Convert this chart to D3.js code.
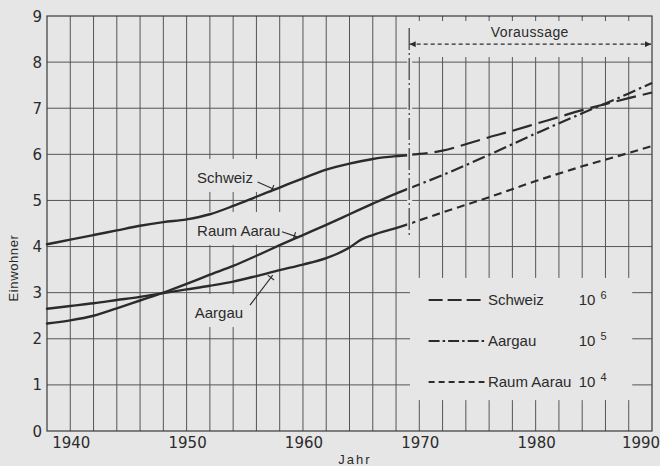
<!DOCTYPE html>
<html>
<head>
<meta charset="utf-8">
<script src="https://cdn.jsdelivr.net/npm/d3@7"></script>
<style>
html,body{margin:0;padding:0;background:#e6e6e6;}
svg{display:block;}
</style>
</head>
<body>
<svg id="chart" width="660" height="466"></svg>
<script>
// ---------- data ----------
const yearTicks = [1940, 1950, 1960, 1970, 1980, 1990];
const valueTicks = [0, 1, 2, 3, 4, 5, 6, 7, 8, 9];

const schweizYears  = [1938,1940,1942,1944,1946,1948,1950,1952,1954,1956,1958,1960,1962,1964,1966,1968,1969];
const schweizValues = [4.05,4.15,4.25,4.35,4.45,4.53,4.59,4.70,4.88,5.08,5.28,5.48,5.67,5.80,5.90,5.96,5.98];
const schweizForecastYears  = [1969,1970,1972,1974,1976,1978,1980,1982,1984,1986,1988,1990];
const schweizForecastValues = [5.99,6.01,6.08,6.22,6.37,6.51,6.66,6.81,6.96,7.09,7.22,7.34];

const raumYears  = [1938,1940,1942,1944,1946,1948,1950,1952,1954,1956,1958,1960,1962,1964,1966,1968,1969];
const raumValues = [2.33,2.40,2.50,2.66,2.83,3.00,3.19,3.39,3.58,3.80,4.03,4.25,4.47,4.70,4.93,5.15,5.25];
const raumForecastYears  = [1969,1972,1976,1980,1984,1988,1990];
const raumForecastValues = [5.25,5.55,5.99,6.45,6.89,7.32,7.55];

const aargauYears  = [1938,1940,1942,1944,1946,1948,1950,1952,1954,1956,1958,1960,1962,1963,1964,1965,1966,1968,1969];
const aargauValues = [2.65,2.71,2.77,2.84,2.91,2.99,3.07,3.15,3.24,3.36,3.49,3.61,3.75,3.85,3.98,4.15,4.25,4.40,4.48];
const aargauForecastYears  = [1969,1972,1976,1980,1984,1988,1990];
const aargauForecastValues = [4.48,4.74,5.07,5.42,5.74,6.03,6.18];

const legendNames = ["Schweiz", "Aargau", "Raum Aarau"];
const legendUnits = ["6", "5", "4"];
const forecastStart = 1969;

// ---------- layout ----------
const svg = d3.select("#chart");
const BG = "#e6e6e6", INK = "#2b2b2b", GRID = "#555";
const x = d3.scaleLinear().domain([1938, 1990]).range([47, 652]);
const y = d3.scaleLinear().domain([0, 9]).range([431, 16]);

const toPts = (ys, vs) => ys.map((yr, i) => [yr, vs[i]]);
const line = d3.line().x(d => x(d[0])).y(d => y(d[1])).curve(d3.curveMonotoneX);

// background
svg.append("rect").attr("width", 660).attr("height", 466).attr("fill", BG);

// grid
const g = svg.append("g");
const gridYears = d3.range(1940, 1990, 2);
g.selectAll(".vg").data(gridYears).join("line")
  .attr("x1", d => x(d)).attr("x2", d => x(d))
  .attr("y1", y(9)).attr("y2", y(0))
  .attr("stroke", GRID).attr("stroke-width", 1);
g.selectAll(".hg").data(d3.range(1, 9)).join("line")
  .attr("x1", x(1938)).attr("x2", x(1990))
  .attr("y1", d => y(d)).attr("y2", d => y(d))
  .attr("stroke", GRID).attr("stroke-width", 1);

// masks behind annotations (hide grid)
const masks = svg.append("g").attr("fill", BG);
masks.append("rect")
  .attr("x", x(forecastStart) + 3).attr("y", y(9) + 1)
  .attr("width", x(1990) - x(forecastStart) - 4).attr("height", y(8.11) - y(9) - 1);
masks.append("rect")
  .attr("x", x(1969.2)).attr("y", y(3.32))
  .attr("width", x(1988.3) - x(1969.2)).attr("height", y(0.67) - y(3.32));

// small ticks at top in header box
svg.append("g").selectAll("line").data(d3.range(1970, 1990, 2)).join("line")
  .attr("x1", d => x(d)).attr("x2", d => x(d))
  .attr("y1", y(9)).attr("y2", y(9) + 5)
  .attr("stroke", GRID).attr("stroke-width", 1);

// frame
svg.append("rect").attr("x", x(1938)).attr("y", y(9))
  .attr("width", x(1990) - x(1938)).attr("height", y(0) - y(9))
  .attr("fill", "none").attr("stroke", "#3a3a3a").attr("stroke-width", 1.2);

// curve labels with masks
const annotations = [
  {text: "Schweiz",    tx: 1950.9, tv: 5.38, from: [1956.1, 5.40], to: [1957.6, 5.23]},
  {text: "Raum Aarau", tx: 1950.9, tv: 4.23, from: [1958.2, 4.32], to: [1959.5, 4.21]},
  {text: "Aargau",     tx: 1950.7, tv: 2.45, from: [1955.45, 2.73], to: [1957.4, 3.38]}
];
const labelG = svg.append("g");
annotations.forEach(a => {
  const t = labelG.append("text")
    .attr("x", x(a.tx)).attr("y", y(a.tv))
    .attr("font-family", "Liberation Sans, Arial, sans-serif")
    .attr("font-size", 15).attr("fill", INK).text(a.text);
  const bb = t.node().getBBox();
  labelG.insert("rect", "text")
    .attr("x", bb.x - 5).attr("y", bb.y - 10)
    .attr("width", bb.width + 12).attr("height", bb.height + 16)
    .attr("fill", BG);
});

// historical curves (solid)
const curves = svg.append("g").attr("fill", "none").attr("stroke", INK)
  .attr("stroke-width", 2.4).attr("stroke-linecap", "round");
curves.append("path").attr("d", line(toPts(schweizYears, schweizValues)));
curves.append("path").attr("d", line(toPts(raumYears, raumValues)));
curves.append("path").attr("d", line(toPts(aargauYears, aargauValues)));

// forecast curves
const fc = svg.append("g").attr("fill", "none").attr("stroke", INK).attr("stroke-width", 2.2);
fc.append("path").attr("d", line(toPts(schweizForecastYears, schweizForecastValues)))
  .attr("stroke-dasharray", "20,7");
fc.append("path").attr("d", line(toPts(raumForecastYears, raumForecastValues)))
  .attr("stroke-dasharray", "13,4,2.5,4");
fc.append("path").attr("d", line(toPts(aargauForecastYears, aargauForecastValues)))
  .attr("stroke-dasharray", "8,5");

// stripe & vertical forecast divider
svg.append("rect").attr("x", x(forecastStart) - 0.5).attr("y", y(8.74))
  .attr("width", 5).attr("height", y(4.25) - y(8.74)).attr("fill", BG);
svg.append("line")
  .attr("x1", x(forecastStart) + 1.5).attr("x2", x(forecastStart) + 1.5)
  .attr("y1", y(8.74)).attr("y2", y(4.25))
  .attr("stroke", INK).attr("stroke-width", 1.1)
  .attr("stroke-dasharray", "22,3,2,3");

// leaders
annotations.forEach(a => {
  const x1 = x(a.from[0]), y1 = y(a.from[1]), x2 = x(a.to[0]), y2 = y(a.to[1]);
  labelG.append("line").attr("x1", x1).attr("y1", y1).attr("x2", x2).attr("y2", y2)
    .attr("stroke", INK).attr("stroke-width", 1.1);
  const dx = x2 - x1, dy = y2 - y1, L = Math.hypot(dx, dy);
  const px = -dy / L, py = dx / L, ux = dx / L, uy = dy / L;
  const cx = x2 - ux * 3, cy = y2 - uy * 3;
  labelG.append("line")
    .attr("x1", cx - px * 4).attr("y1", cy - py * 4)
    .attr("x2", cx + px * 4).attr("y2", cy + py * 4)
    .attr("stroke", INK).attr("stroke-width", 1.1);
});

// "Voraussage" header arrow
const defs = svg.append("defs");
defs.append("marker").attr("id", "ah").attr("viewBox", "0 0 10 10")
  .attr("refX", 10).attr("refY", 5).attr("markerWidth", 9).attr("markerHeight", 6)
  .attr("markerUnits", "userSpaceOnUse").attr("orient", "auto-start-reverse")
  .append("path").attr("d", "M0,0 L10,5 L0,10 Z").attr("fill", INK);
svg.append("line")
  .attr("x1", x(forecastStart) + 2).attr("x2", x(1990) - 1)
  .attr("y1", y(8.39)).attr("y2", y(8.39))
  .attr("stroke", INK).attr("stroke-width", 1.1).attr("stroke-dasharray", "4,3")
  .attr("marker-start", "url(#ah)").attr("marker-end", "url(#ah)");
svg.append("text")
  .attr("x", x((forecastStart + 1990) / 2)).attr("y", y(8.39) - 7)
  .attr("text-anchor", "middle")
  .attr("font-family", "Liberation Sans, Arial, sans-serif")
  .attr("font-size", 14).attr("letter-spacing", 0.4).attr("fill", INK)
  .text("Voraussage");

// legend
const dashes = ["14,5", "11,3,2.5,3", "6,4"];
const legG = svg.append("g");
legendNames.forEach((name, i) => {
  const cy = y(2.84 - i * 0.89);
  legG.append("line").attr("x1", x(1970.8)).attr("x2", x(1975.6))
    .attr("y1", cy).attr("y2", cy)
    .attr("stroke", INK).attr("stroke-width", 2).attr("stroke-dasharray", dashes[i]);
  legG.append("text").attr("x", x(1975.9)).attr("y", cy + 5)
    .attr("font-family", "Liberation Sans, Arial, sans-serif")
    .attr("font-size", 15).attr("fill", INK).text(name);
  const t = legG.append("text").attr("x", x(1983.7)).attr("y", cy + 5)
    .attr("font-family", "Liberation Sans, Arial, sans-serif")
    .attr("font-size", 15).attr("fill", INK);
  t.append("tspan").text("10");
  t.append("tspan").attr("dx", 5).attr("dy", -6).attr("font-size", 11).text(legendUnits[i]);
});

// axes labels
svg.append("g").selectAll("text").data(valueTicks).join("text")
  .attr("x", 42).attr("y", d => y(d) + 5.5).attr("text-anchor", "end")
  .attr("font-family", "DejaVu Sans, sans-serif").attr("font-size", 15)
  .attr("fill", INK).text(d => d);
svg.append("g").selectAll("text").data(yearTicks).join("text")
  .attr("x", d => Math.min(x(d) + 1, 641)).attr("y", 448).attr("text-anchor", "middle")
  .attr("font-family", "DejaVu Sans, sans-serif").attr("font-size", 15)
  .attr("fill", INK).text(d => d);
svg.append("text").attr("transform", "translate(18,268) rotate(-90)")
  .attr("text-anchor", "middle")
  .attr("font-family", "Liberation Sans, Arial, sans-serif").attr("font-size", 13)
  .attr("letter-spacing", 0.6).attr("fill", INK).text("Einwohner");
svg.append("text").attr("x", 355).attr("y", 464).attr("text-anchor", "middle")
  .attr("font-family", "Liberation Sans, Arial, sans-serif").attr("font-size", 13)
  .attr("letter-spacing", 2).attr("fill", INK).text("Jahr");
</script>
</body>
</html>
